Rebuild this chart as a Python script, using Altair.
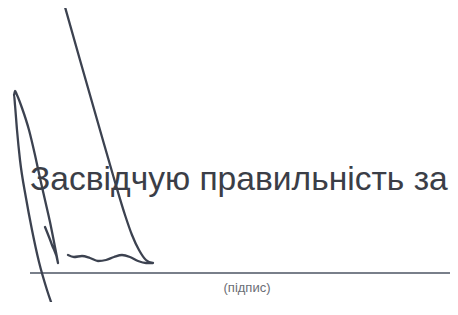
import altair as alt
import pandas as pd

# Signature strokes (page pixel coordinates)
stroke_long_x = [65, 80, 100, 115, 125, 132, 139, 146, 153, 146, 138, 130, 122, 114, 106, 98, 90, 82, 74, 68]
stroke_long_y = [7, 60, 130, 182, 215, 235, 250, 260, 263, 263, 261, 257, 255, 257, 260, 261, 258, 256, 257, 255]

stroke_loop_x = [55, 47, 39, 32, 26, 20, 17, 15, 14, 15, 17, 22, 29, 35, 40, 45, 50, 54, 58, 52, 45]
stroke_loop_y = [313, 290, 262, 230, 198, 160, 130, 105, 95, 91, 95, 108, 130, 155, 178, 200, 222, 242, 263, 245, 227]

main_text = ["Засвідчую правильність за"]
caption_text = ["(підпис)"]

rule_x = [30]
rule_x2 = [458]
rule_y = [273]

rows = []
for i, (x, y) in enumerate(zip(stroke_long_x, stroke_long_y)):
    rows.append({"s": "a", "i": i, "x": x, "y": y})
for i, (x, y) in enumerate(zip(stroke_loop_x, stroke_loop_y)):
    rows.append({"s": "b", "i": i, "x": x, "y": y})
strokes = pd.DataFrame(rows)

xs = alt.Scale(domain=[8, 450], nice=False, zero=False)
ys = alt.Scale(domain=[8, 302], nice=False, zero=False, reverse=True)

lines = alt.Chart(strokes).mark_line(
    color="#3c4250", strokeWidth=2.3, interpolate="monotone", strokeCap="round", strokeJoin="round"
).encode(
    x=alt.X("x:Q", scale=xs, axis=None),
    y=alt.Y("y:Q", scale=ys, axis=None),
    detail="s:N",
    order="i:Q",
)

rule = alt.Chart(pd.DataFrame({"x": rule_x, "x2": rule_x2, "y": rule_y})).mark_rule(
    color="#4d5563", strokeWidth=1.5
).encode(
    x=alt.X("x:Q", scale=xs, axis=None),
    x2="x2:Q",
    y=alt.Y("y:Q", scale=ys, axis=None),
)

txt = alt.Chart(pd.DataFrame({"t": main_text, "x": [30], "y": [190]})).mark_text(
    font="Liberation Sans", fontSize=33.6, color="#3b3e47", align="left", baseline="alphabetic"
).encode(
    x=alt.X("x:Q", scale=xs, axis=None),
    y=alt.Y("y:Q", scale=ys, axis=None),
    text="t:N",
)

cap = alt.Chart(pd.DataFrame({"t": caption_text, "x": [247], "y": [292]})).mark_text(
    font="Liberation Sans", fontSize=13, color="#6a6d75", align="center", baseline="alphabetic"
).encode(
    x=alt.X("x:Q", scale=xs, axis=None),
    y=alt.Y("y:Q", scale=ys, axis=None),
    text="t:N",
)

chart = alt.layer(rule, lines, txt, cap).properties(
    width=442, height=294, padding=0, background="white",
    autosize=alt.AutoSizeParams(type="none"),
).configure_view(stroke=None)

chart.save("out.html", embed_options={"renderer": "svg", "actions": False})
